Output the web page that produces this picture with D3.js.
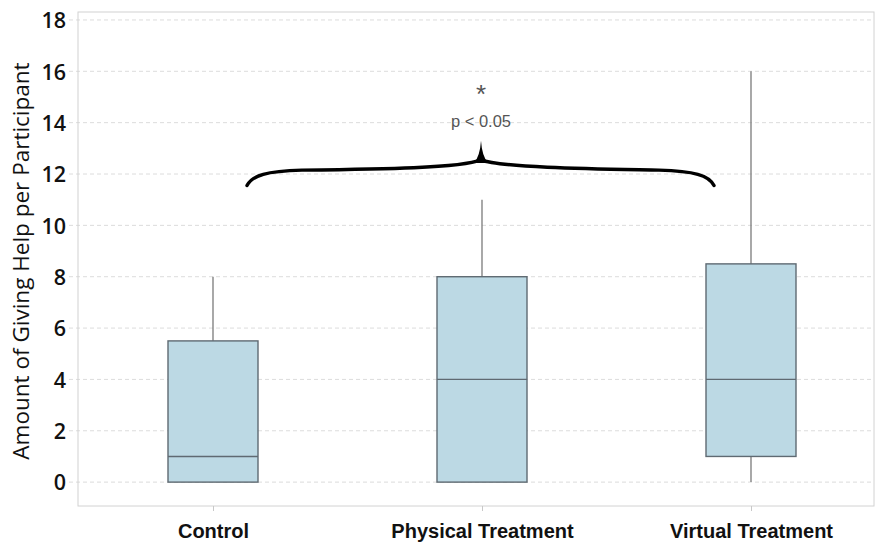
<!DOCTYPE html>
<html>
<head>
<meta charset="utf-8">
<script src="https://cdn.jsdelivr.net/npm/d3@7"></script>
<style>
  html, body { margin: 0; padding: 0; background: #fff; }
  svg { display: block; }
</style>
</head>
<body>
<svg id="chart" width="875" height="544"></svg>
<script>
// ---- Data ----
const categories = ["Control", "Physical Treatment", "Virtual Treatment"];
const whiskerMin = [0, 0, 0];
const q1Values = [0, 0, 1];
const medianValues = [1, 4, 4];
const q3Values = [5.5, 8, 8.5];
const whiskerMax = [8, 11, 16];
const yTicks = [0, 2, 4, 6, 8, 10, 12, 14, 16, 18];
const yTitle = "Amount of Giving Help per Participant";
const sigStar = "*";
const sigText = "p < 0.05";

// ---- Layout ----
const W = 875, H = 544;
const plot = { left: 78, right: 874, top: 12, bottom: 506 };
const svg = d3.select("#chart");

const y = d3.scaleLinear().domain([-0.93, 18.31]).range([plot.bottom, plot.top]);
const x = d3.scalePoint().domain(categories).range([213, 751]);
const boxW = 90;

// gridlines
svg.append("g").selectAll("line").data(yTicks).join("line")
  .attr("x1", 69).attr("x2", plot.right)
  .attr("y1", d => y(d)).attr("y2", d => y(d))
  .attr("stroke", "#dcdcdc").attr("stroke-width", 1)
  .attr("stroke-dasharray", "4,3");

// frame
svg.append("rect")
  .attr("x", plot.left).attr("y", plot.top)
  .attr("width", plot.right - plot.left).attr("height", plot.bottom - plot.top)
  .attr("fill", "none").attr("stroke", "#d2d2d2").attr("stroke-width", 1);

// y axis labels
const yAxis = d3.axisLeft(y).tickValues(yTicks).tickSize(0).tickPadding(12);
const gy = svg.append("g").attr("transform", `translate(${plot.left},0)`).call(yAxis);
gy.select(".domain").remove();
gy.selectAll("text")
  .attr("font-family", "'Open Sans', sans-serif")
  .attr("font-weight", 600)
  .attr("font-size", 21.5)
  .attr("fill", "#111")
  .attr("dy", "0.36em");

// x axis
const xAxis = d3.axisBottom(x).tickSize(5).tickPadding(13);
const gx = svg.append("g").attr("transform", `translate(0,${plot.bottom})`).call(xAxis);
gx.select(".domain").remove();
gx.selectAll(".tick line").attr("stroke", "#c8c8c8");
gx.selectAll("text")
  .attr("font-family", "'Liberation Sans', Arial, sans-serif")
  .attr("font-weight", "bold")
  .attr("font-size", 20)
  .attr("fill", "#111");

// y title
svg.append("text")
  .attr("transform", `translate(29,${(plot.top + plot.bottom) / 2 + 2}) rotate(-90)`)
  .attr("text-anchor", "middle")
  .attr("font-family", "'Open Sans', sans-serif")
  .attr("font-size", 22.5)
  .attr("fill", "#111")
  .text(yTitle);

// boxes
const boxes = categories.map((c, i) => ({
  c, min: whiskerMin[i], q1: q1Values[i], med: medianValues[i], q3: q3Values[i], max: whiskerMax[i]
}));
const g = svg.append("g").selectAll("g").data(boxes).join("g");
g.append("line")
  .attr("x1", d => x(d.c)).attr("x2", d => x(d.c))
  .attr("y1", d => y(d.max)).attr("y2", d => y(d.q3))
  .attr("stroke", "#7a7a7a").attr("stroke-width", 1.3);
g.append("line")
  .attr("x1", d => x(d.c)).attr("x2", d => x(d.c))
  .attr("y1", d => y(d.q1)).attr("y2", d => y(d.min))
  .attr("stroke", "#7a7a7a").attr("stroke-width", 1.3);
g.append("rect")
  .attr("x", d => x(d.c) - boxW / 2).attr("width", boxW)
  .attr("y", d => y(d.q3)).attr("height", d => y(d.q1) - y(d.q3))
  .attr("fill", "#bcd9e4").attr("stroke", "#5f6a72").attr("stroke-width", 1.4);
g.append("line")
  .attr("x1", d => x(d.c) - boxW / 2).attr("x2", d => x(d.c) + boxW / 2)
  .attr("y1", d => y(d.med)).attr("y2", d => y(d.med))
  .attr("stroke", "#5f6a72").attr("stroke-width", 1.4);

// brace annotation
const xl = x(categories[0]) + 34, xr = x(categories[2]) - 37, xm = x(categories[1]) - 1;
const yEnd = y(11.55), yArm = y(12.15), yTip = y(13.3), yNear = y(12.55);
const bracePath = d3.path();
bracePath.moveTo(xl, yEnd);
bracePath.bezierCurveTo(xl + 5, yArm + 5, xl + 20, yArm + 1, xl + 55, yArm);
bracePath.bezierCurveTo(xm - 100, yArm - 1, xm - 20, yArm - 2, xm, yNear);
bracePath.bezierCurveTo(xm + 20, yArm - 2, xr - 100, yArm - 1, xr - 55, yArm);
bracePath.bezierCurveTo(xr - 20, yArm + 1, xr - 5, yArm + 5, xr, yEnd);
svg.append("path").attr("d", bracePath.toString())
  .attr("fill", "none").attr("stroke", "#000").attr("stroke-width", 3.4)
  .attr("stroke-linecap", "round");
// tapered cusp
const tip = d3.path();
tip.moveTo(xm - 7, yNear + 3);
tip.quadraticCurveTo(xm - 1, yNear - 4, xm, yTip);
tip.quadraticCurveTo(xm + 1, yNear - 4, xm + 7, yNear + 3);
tip.closePath();
svg.append("path").attr("d", tip.toString()).attr("fill", "#000");

svg.append("text")
  .attr("x", xm).attr("y", y(14.78))
  .attr("text-anchor", "middle")
  .attr("font-family", "'Liberation Sans', Arial, sans-serif")
  .attr("font-size", 26).attr("fill", "#555")
  .text(sigStar);
svg.append("text")
  .attr("x", xm).attr("y", y(13.85))
  .attr("text-anchor", "middle")
  .attr("font-family", "'Liberation Sans', Arial, sans-serif")
  .attr("font-size", 16.5).attr("fill", "#555")
  .text(sigText);
</script>
</body>
</html>
